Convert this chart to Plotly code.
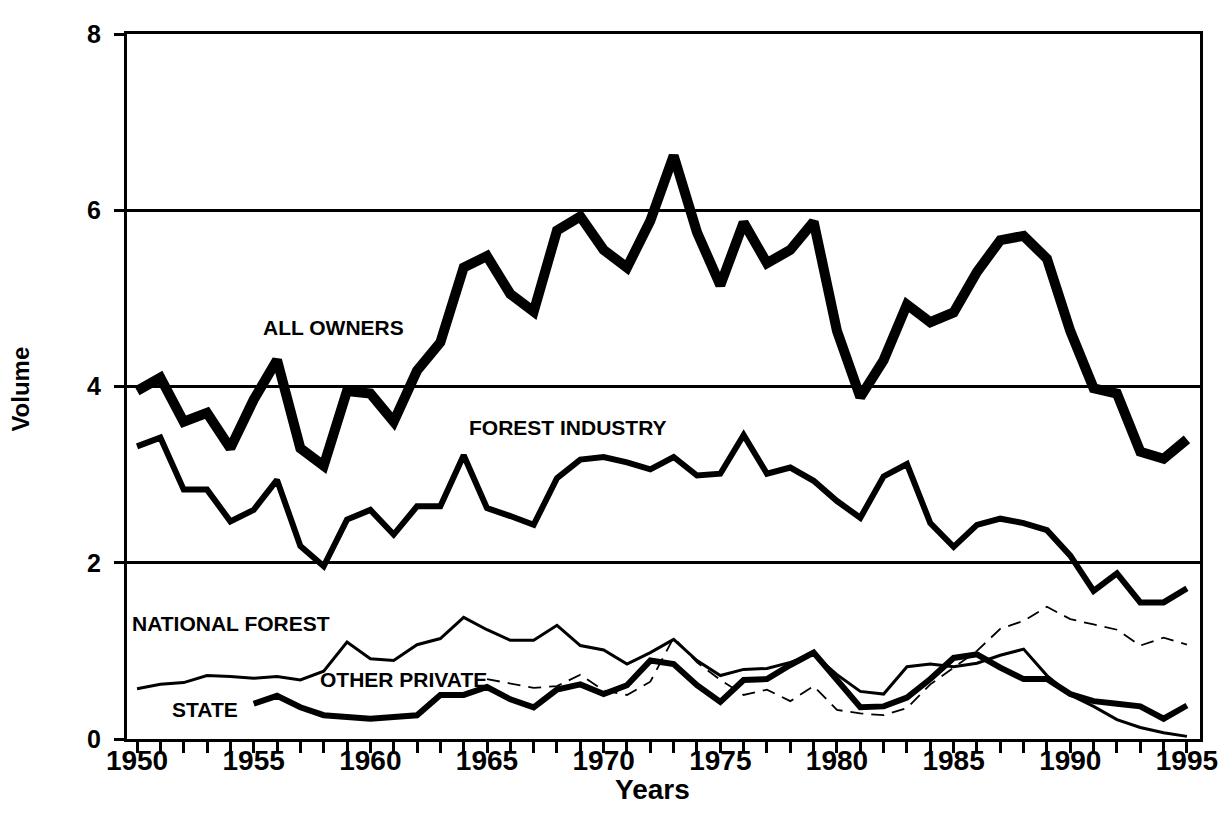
import plotly.graph_objects as go

years = list(range(1950, 1996))

all_owners = [3.95, 4.1, 3.6, 3.7, 3.3, 3.85, 4.3, 3.3, 3.1, 3.95,
              3.92, 3.6, 4.18, 4.5, 5.35, 5.48, 5.05, 4.85, 5.77, 5.93,
              5.55, 5.35, 5.88, 6.62, 5.75, 5.15, 5.86, 5.4, 5.55, 5.87,
              4.63, 3.88, 4.3, 4.93, 4.73, 4.84, 5.3, 5.66, 5.71, 5.45,
              4.63, 3.98, 3.92, 3.26, 3.18, 3.4]

forest_industry = [3.32, 3.42, 2.83, 2.83, 2.47, 2.6, 2.94, 2.19, 1.96, 2.49,
                   2.6, 2.32, 2.64, 2.64, 3.22, 2.62, 2.53, 2.43, 2.96, 3.17,
                   3.2, 3.14, 3.06, 3.2, 2.99, 3.01, 3.45, 3.01, 3.08, 2.93,
                   2.7, 2.51, 2.98, 3.12, 2.45, 2.18, 2.43, 2.5, 2.45, 2.37,
                   2.08, 1.68, 1.88, 1.55, 1.55, 1.71]

national_forest = [0.57, 0.62, 0.64, 0.72, 0.71, 0.69, 0.71, 0.67, 0.77, 1.1,
                   0.91, 0.89, 1.07, 1.14, 1.38, 1.24, 1.12, 1.12, 1.29, 1.06,
                   1.01, 0.85, 0.98, 1.13, 0.89, 0.72, 0.79, 0.8, 0.87, 0.96,
                   0.73, 0.54, 0.51, 0.82, 0.85, 0.82, 0.86, 0.95, 1.02, 0.72,
                   0.5, 0.37, 0.22, 0.13, 0.07, 0.03]

state_years = list(range(1955, 1996))
state = [0.4, 0.49, 0.36, 0.27, 0.25, 0.23, 0.25, 0.27, 0.5, 0.5,
         0.59, 0.45, 0.36, 0.56, 0.62, 0.51, 0.61, 0.89, 0.85, 0.61,
         0.42, 0.67, 0.68, 0.84, 0.98, 0.68, 0.36, 0.37, 0.47, 0.68,
         0.92, 0.96, 0.81, 0.68, 0.68, 0.51, 0.43, 0.4, 0.37, 0.23, 0.38]

other_years = list(range(1965, 1996))
other_private = [0.68, 0.63, 0.58, 0.6, 0.73, 0.55, 0.5, 0.65, 1.15, 0.87,
                 0.67, 0.5, 0.56, 0.43, 0.6, 0.33, 0.29, 0.27, 0.35, 0.62,
                 0.81, 1.0, 1.25, 1.34, 1.5, 1.36, 1.3, 1.24, 1.06, 1.15, 1.07]

label_text = ["ALL OWNERS", "FOREST INDUSTRY", "NATIONAL FOREST", "OTHER PRIVATE", "STATE"]
label_x = [1958.4, 1968.46, 1954.03, 1961.4, 1952.9]
label_y = [4.67, 3.53, 1.31, 0.68, 0.34]

xtick_vals = list(range(1950, 1996, 5))
ytick_vals = [0, 2, 4, 6, 8]

FONT = "Liberation Sans, Arial, Helvetica, sans-serif"

fig = go.Figure()
fig.add_trace(go.Scatter(x=other_years, y=other_private, mode="lines",
                         line=dict(color="black", width=1.8, dash="13px,8px"),
                         name="Other Private"))
fig.add_trace(go.Scatter(x=years, y=national_forest, mode="lines",
                         line=dict(color="black", width=3),
                         name="National Forest"))
fig.add_trace(go.Scatter(x=state_years, y=state, mode="lines",
                         line=dict(color="black", width=6),
                         name="State"))
fig.add_trace(go.Scatter(x=years, y=forest_industry, mode="lines",
                         line=dict(color="black", width=6),
                         name="Forest Industry"))
fig.add_trace(go.Scatter(x=years, y=all_owners, mode="lines",
                         line=dict(color="black", width=10),
                         name="All Owners"))

for t, x, y in zip(label_text, label_x, label_y):
    fig.add_annotation(x=x, y=y, text=t, showarrow=False,
                       font=dict(family=FONT, size=21, color="black", weight="bold"),
                       xanchor="center", yanchor="middle")

fig.add_annotation(xref="paper", yref="paper", x=-0.0988, y=0.497,
                   text="Volume", textangle=-90, showarrow=False,
                   xanchor="center", yanchor="middle",
                   font=dict(family=FONT, size=24, color="black", weight="bold"))
fig.add_annotation(xref="paper", yref="paper", x=0.49, y=-0.071,
                   text="Years", showarrow=False,
                   xanchor="center", yanchor="middle",
                   font=dict(family=FONT, size=28, color="black", weight="bold"))

fig.update_layout(
    width=1222, height=807,
    margin=dict(l=119, r=30, t=19, b=76),
    paper_bgcolor="white", plot_bgcolor="white",
    showlegend=False,
    font=dict(family=FONT, color="black"),
)
fig.update_xaxes(
    range=[1949.57, 1995.56],
    tickvals=xtick_vals,
    ticks="outside", ticklen=0,
    ticklabelstandoff=-6,
    tickfont=dict(family=FONT, size=28, color="black", weight="bold"),
    minor=dict(ticks="outside", dtick=1, tick0=1950, ticklen=11,
               tickwidth=3, tickcolor="black", showgrid=False),
    showline=True, linecolor="black", linewidth=3, mirror=True,
    showgrid=False, zeroline=False,
)
fig.update_yaxes(
    range=[0, 8],
    tickvals=ytick_vals,
    ticks="outside", ticklen=10, tickwidth=3, tickcolor="black",
    ticklabelstandoff=8,
    tickfont=dict(family=FONT, size=25, color="black", weight="bold"),
    showline=True, linecolor="black", linewidth=3, mirror=True,
    showgrid=True, gridcolor="black", gridwidth=3, zeroline=False,
)

fig.write_html("out.html")
